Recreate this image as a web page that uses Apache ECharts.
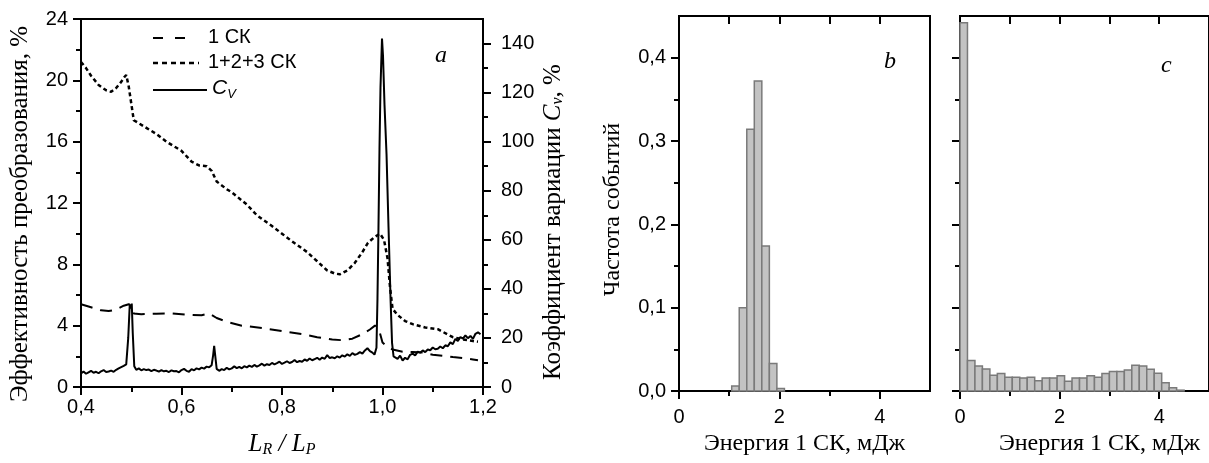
<!DOCTYPE html>
<html>
<head>
<meta charset="utf-8">
<script src="https://cdn.jsdelivr.net/npm/echarts@6/dist/echarts.min.js"></script>
<style>html,body{margin:0;padding:0;background:#fff}#c{width:1209px;height:463px}</style>
</head>
<body>
<div id="c"></div>
<script>
// ---- Panel a: conversion efficiency (left axis) and variation coefficient (right axis)
const ratio1 = [0.40,0.42,0.44,0.455,0.47,0.485,0.495,0.50,0.505,0.52,0.55,0.58,0.61,0.64,0.655,0.67,0.69,0.72,0.76,0.80,0.84,0.87,0.90,0.92,0.94,0.96,0.975,0.985,0.99,0.995,1.0,1.01,1.02,1.04,1.06,1.08,1.10,1.12,1.14,1.16,1.18,1.19];
const eff1 = [5.4,5.2,5.0,4.95,5.05,5.3,5.4,5.3,4.8,4.75,4.78,4.8,4.72,4.68,4.8,4.5,4.25,4.0,3.85,3.65,3.45,3.25,3.1,3.05,3.15,3.45,3.75,4.0,3.95,3.5,2.9,2.6,2.45,2.3,2.28,2.25,2.1,2.03,1.95,1.88,1.8,1.75];

const ratio123 = [0.40,0.41,0.42,0.435,0.45,0.46,0.47,0.48,0.486,0.49,0.495,0.505,0.515,0.53,0.55,0.57,0.59,0.60,0.62,0.635,0.65,0.66,0.67,0.69,0.70,0.73,0.75,0.78,0.80,0.82,0.85,0.87,0.89,0.905,0.915,0.93,0.945,0.96,0.971,0.985,0.995,1.003,1.01,1.015,1.02,1.03,1.045,1.06,1.085,1.11,1.14,1.16,1.18,1.19];
const eff123 = [21.2,20.8,20.3,19.7,19.35,19.25,19.5,19.9,20.2,20.35,19.6,17.4,17.2,16.9,16.5,16.0,15.6,15.4,14.7,14.45,14.4,14.1,13.4,12.9,12.7,11.9,11.2,10.5,10.0,9.5,8.8,8.2,7.6,7.4,7.35,7.6,8.1,8.8,9.4,9.8,10.0,9.6,8.4,6.5,5.1,4.7,4.3,4.1,3.88,3.77,3.25,3.1,3.0,2.95];

const ratioCv = [0.400,0.405,0.410,0.415,0.420,0.425,0.430,0.435,0.440,0.445,0.450,0.455,0.460,0.465,0.470,0.475,0.480,0.485,0.490,0.494,0.497,0.499,0.501,0.503,0.506,0.510,0.515,0.520,0.525,0.530,0.535,0.540,0.545,0.550,0.555,0.560,0.565,0.570,0.575,0.580,0.585,0.590,0.595,0.600,0.605,0.610,0.615,0.620,0.625,0.630,0.635,0.640,0.645,0.650,0.655,0.660,0.663,0.665,0.667,0.670,0.675,0.680,0.685,0.690,0.695,0.700,0.705,0.710,0.715,0.720,0.725,0.730,0.735,0.740,0.745,0.750,0.755,0.760,0.765,0.770,0.775,0.780,0.785,0.790,0.795,0.800,0.805,0.810,0.815,0.820,0.825,0.830,0.835,0.840,0.845,0.850,0.855,0.860,0.865,0.870,0.875,0.880,0.885,0.890,0.895,0.900,0.905,0.910,0.915,0.920,0.925,0.930,0.935,0.940,0.945,0.950,0.955,0.960,0.965,0.970,0.975,0.980,0.984,0.988,0.990,0.992,0.994,0.996,0.999,1.001,1.004,1.008,1.012,1.016,1.019,1.022,1.025,1.030,1.035,1.040,1.045,1.050,1.055,1.060,1.065,1.070,1.075,1.080,1.085,1.090,1.095,1.100,1.105,1.110,1.115,1.120,1.125,1.130,1.135,1.140,1.145,1.150,1.155,1.160,1.165,1.170,1.175,1.180,1.185,1.190,1.195];
const cv = [5.5,6.3,5.4,6.0,6.6,5.8,6.2,5.6,6.4,6.9,6.1,6.3,6.7,6.2,7.0,7.6,8.1,8.6,9.2,20,33.5,32,34,22,8.5,7.0,7.6,6.8,7.3,6.9,7.1,6.5,7.0,6.7,6.3,6.9,6.4,6.6,6.1,6.8,6.4,6.5,6.0,6.9,7.4,6.6,6.2,7.3,6.8,7.6,7.2,7.9,7.5,8.3,8.0,8.9,13,16.8,13,7.4,6.6,7.3,6.9,7.8,7.2,7.6,8.4,7.7,8.2,7.6,8.5,8.0,8.7,8.2,9.0,8.3,8.8,9.5,8.7,9.3,9.0,9.8,9.2,9.7,10.3,9.4,9.9,10.5,9.8,10.2,11.0,10.1,10.6,10.3,11.2,10.7,11.6,10.9,11.4,11.9,11.1,12.0,11.5,13.0,11.8,12.1,11.7,12.5,12.0,12.9,12.4,13.3,12.7,13.8,13.1,13.5,14.2,13.6,14.9,15.8,14.6,14.0,13.2,16,36,65,97,122,142,135,115,95,65,36,18,12.5,12.2,11.5,12.8,10.8,11.9,11.3,13.1,13.6,12.9,14.4,14.0,14.9,14.2,15.3,15.0,16.1,15.4,15.6,16.5,15.8,17.0,16.6,18.2,17.5,19.6,18.8,20.4,19.7,21.0,19.9,20.8,19.6,21.7,22.3,21.5];

const effTicks = [0,4,8,12,16,20,24];
const cvTicks = [0,20,40,60,80,100,120,140];
const cvMinorTicks = [10,30,50,70,90,110,130];
const ratioTicks = [0.4,0.6,0.8,1.0,1.2];

// ---- Panels b and c: histograms of 1st Stokes energy
const binEdgesB = [1.05,1.20,1.35,1.50,1.65,1.80,1.95,2.10];
const freqB = [0.006,0.100,0.314,0.372,0.174,0.033,0.003];
const binEdgesC = [0,0.15,0.30,0.45,0.60,0.75,0.90,1.05,1.20,1.35,1.50,1.65,1.80,1.95,2.10,2.25,2.40,2.55,2.70,2.85,3.00,3.15,3.30,3.45,3.60,3.75,3.90,4.05,4.20,4.35,4.50];
const freqC = [0.442,0.0365,0.030,0.0265,0.019,0.021,0.0165,0.0165,0.0157,0.0165,0.0124,0.0157,0.0157,0.0184,0.0116,0.0157,0.0157,0.0184,0.0165,0.021,0.0233,0.0233,0.0253,0.031,0.030,0.026,0.0213,0.010,0.004,0.001];
const energyTicks = [0,2,4];
const energyMinor = [1,3];
const energyTop = [1,2,3,4];
const freqTicks = [0,0.1,0.2,0.3,0.4];
const freqMinor = [0.05,0.15,0.25,0.35];

function zip(a, b) { return a.map((v, i) => [v, b[i]]); }
function bins(edges, f) { return f.map((v, i) => [edges[i], edges[i + 1], v]); }

const SANS = '"Liberation Sans", Arial, sans-serif';
const SERIF = '"Liberation Serif", "Times New Roman", serif';
const BLACK = '#000';
const LABEL_SIZE = 20;
const NAME_SIZE = 25;
const comma = (d) => (v) => v.toFixed(d).replace('.', ',');

function renderBar(params, api) {
  const p0 = api.coord([api.value(0), api.value(2)]);
  const p1 = api.coord([api.value(1), 0]);
  return {
    type: 'rect',
    shape: { x: p0[0], y: p0[1], width: p1[0] - p0[0], height: p1[1] - p0[1] },
    style: { fill: '#c3c3c3', stroke: '#7a7a7a', lineWidth: 1.5 }
  };
}

const axisLine = { show: true, lineStyle: { color: BLACK, width: 2 } };
const tickStyle = { color: BLACK, width: 2 };

function energyAxes(grid) {
  return [
    { type: 'value', gridIndex: grid, position: 'bottom', min: 0, max: 5,
      axisLine: axisLine, splitLine: { show: false },
      axisTick: { show: true, customValues: energyTicks, length: 8, lineStyle: tickStyle },
      axisLabel: { customValues: energyTicks, margin: 16, color: BLACK, fontFamily: SANS, fontSize: LABEL_SIZE },
      name: 'Энергия 1 СК, мДж', nameLocation: 'middle', nameGap: 40,
      nameTextStyle: { fontFamily: SERIF, fontSize: NAME_SIZE - 1, color: BLACK, padding: grid === 2 ? [0, 0, 0, 30] : 0 } },
    { type: 'value', gridIndex: grid, position: 'bottom', min: 0, max: 5,
      axisLine: { show: false }, splitLine: { show: false },
      axisTick: { show: true, customValues: energyMinor, length: 5, lineStyle: tickStyle },
      axisLabel: { show: false } },
    { type: 'value', gridIndex: grid, position: 'top', min: 0, max: 5,
      axisLine: axisLine, splitLine: { show: false },
      axisTick: { show: true, inside: true, customValues: energyTop, length: 8, lineStyle: tickStyle },
      axisLabel: { show: false } }
  ];
}
function freqAxes(grid, withLabels) {
  const a = [
    { type: 'value', gridIndex: grid, position: 'left', min: 0, max: 0.45,
      axisLine: axisLine, splitLine: { show: false },
      axisTick: { show: true, customValues: freqTicks, length: 8, lineStyle: tickStyle },
      axisLabel: { show: withLabels, customValues: freqTicks, formatter: comma(1), margin: 13, color: BLACK, fontFamily: SANS, fontSize: LABEL_SIZE } },
    { type: 'value', gridIndex: grid, position: 'left', min: 0, max: 0.45,
      axisLine: { show: false }, splitLine: { show: false },
      axisTick: { show: true, customValues: freqMinor, length: 5, lineStyle: tickStyle },
      axisLabel: { show: false } }
  ];
  if (withLabels) {
    Object.assign(a[0], { name: 'Частота событий', nameLocation: 'middle', nameGap: 54,
      nameTextStyle: { fontFamily: SERIF, fontSize: NAME_SIZE - 1, color: BLACK, padding: [0, 12, 0, 0] } });
  }
  return a;
}

const xAxes = [
  { type: 'value', gridIndex: 0, position: 'bottom', min: 0.4, max: 1.2, interval: 0.2,
    axisLine: axisLine, splitLine: { show: false },
    axisTick: { show: true, length: 8, lineStyle: tickStyle },
    minorTick: { show: true, splitNumber: 2, length: 5, lineStyle: tickStyle },
    axisLabel: { formatter: comma(1), margin: 10, color: BLACK, fontFamily: SANS, fontSize: LABEL_SIZE },
    name: '{i|L}{s|R}{n| / }{i|L}{s|P}', nameLocation: 'middle', nameGap: 43,
    nameTextStyle: { color: BLACK, rich: {
      i: { fontFamily: SERIF, fontStyle: 'italic', fontSize: 25, color: BLACK },
      n: { fontFamily: SERIF, fontStyle: 'italic', fontSize: 25, color: BLACK },
      s: { fontFamily: SERIF, fontStyle: 'italic', fontSize: 16, color: BLACK, padding: [12, 0, 0, 0] } } } },
  ...energyAxes(1),
  ...energyAxes(2)
];

const yAxes = [
  { type: 'value', gridIndex: 0, position: 'left', min: 0, max: 24, interval: 4,
    axisLine: axisLine, splitLine: { show: false },
    axisTick: { show: true, length: 8, lineStyle: tickStyle },
    minorTick: { show: true, splitNumber: 2, length: 5, lineStyle: tickStyle },
    axisLabel: { margin: 13, color: BLACK, fontFamily: SANS, fontSize: LABEL_SIZE },
    name: 'Эффективность преобразования, %', nameLocation: 'middle', nameGap: 48,
    nameTextStyle: { fontFamily: SERIF, fontSize: NAME_SIZE, color: BLACK, padding: [0, 22, 0, 0] } },
  { type: 'value', gridIndex: 0, position: 'right', min: 0, max: 150,
    axisLine: axisLine, splitLine: { show: false },
    axisTick: { show: true, customValues: cvTicks, length: 8, lineStyle: tickStyle },
    axisLabel: { customValues: cvTicks, margin: 18, color: BLACK, fontFamily: SANS, fontSize: LABEL_SIZE },
    name: 'Коэффициент вариации {i|C}{s|v}, %', nameLocation: 'middle', nameGap: 57,
    nameTextStyle: { fontFamily: SERIF, fontSize: NAME_SIZE, color: BLACK, padding: [0, 38, 0, 0], rich: {
      i: { fontFamily: SERIF, fontStyle: 'italic', fontSize: NAME_SIZE, color: BLACK },
      s: { fontFamily: SERIF, fontStyle: 'italic', fontSize: 16, color: BLACK, padding: [10, 0, 0, 0] } } } },
  { type: 'value', gridIndex: 0, position: 'right', min: 0, max: 150,
    axisLine: { show: false }, splitLine: { show: false },
    axisTick: { show: true, customValues: cvMinorTicks, length: 5, lineStyle: tickStyle },
    axisLabel: { show: false } },
  ...freqAxes(1, true),
  ...freqAxes(2, false)
];

const legendFont = '20px "Liberation Sans", Arial, sans-serif';
const option = {
  animation: false,
  backgroundColor: '#fff',
  grid: [
    { left: 81, right: 726, top: 19, bottom: 75, show: true, borderColor: BLACK, borderWidth: 2 },
    { left: 679, right: 279, top: 16, bottom: 72, show: true, borderColor: BLACK, borderWidth: 2 },
    { left: 960, width: 251, top: 16, bottom: 72, show: true, borderColor: BLACK, borderWidth: 2 }
  ],
  xAxis: xAxes,
  yAxis: yAxes,
  graphic: [
    // legend
    { type: 'line', shape: { x1: 153, y1: 38, x2: 186, y2: 38 }, style: { stroke: BLACK, lineWidth: 2, lineDash: [10, 12] } },
    { type: 'text', left: 208, top: 27, style: { text: '1 СК', font: legendFont, fill: BLACK } },
    { type: 'line', shape: { x1: 153, y1: 63, x2: 199, y2: 63 }, style: { stroke: BLACK, lineWidth: 2.5, lineDash: [5, 4] } },
    { type: 'text', left: 208, top: 52, style: { text: '1+2+3 СК', font: legendFont, fill: BLACK } },
    { type: 'line', shape: { x1: 153, y1: 90, x2: 207, y2: 90 }, style: { stroke: BLACK, lineWidth: 2 } },
    { type: 'text', left: 212, top: 78, style: { text: '{i|C}{s|V}', fill: BLACK, rich: {
      i: { font: 'italic 21px "Liberation Sans", Arial, sans-serif', fill: BLACK },
      s: { font: 'italic 13px "Liberation Sans", Arial, sans-serif', fill: BLACK, padding: [12, 0, 0, 0] } } } },
    // panel letters
    { type: 'text', left: 435, top: 44, style: { text: 'a', font: 'italic 24px "Liberation Serif"', fill: BLACK } },
    { type: 'text', left: 884, top: 50, style: { text: 'b', font: 'italic 24px "Liberation Serif"', fill: BLACK } },
    { type: 'text', left: 1161, top: 54, style: { text: 'c', font: 'italic 24px "Liberation Serif"', fill: BLACK } }
  ],
  series: [
    { name: '1 СК', type: 'line', xAxisIndex: 0, yAxisIndex: 0, symbol: 'none', data: zip(ratio1, eff1),
      lineStyle: { color: BLACK, width: 2, type: [12, 8] } },
    { name: '1+2+3 СК', type: 'line', xAxisIndex: 0, yAxisIndex: 0, symbol: 'none', data: zip(ratio123, eff123),
      lineStyle: { color: BLACK, width: 2.5, type: [4, 3] } },
    { name: 'C_V', type: 'line', xAxisIndex: 0, yAxisIndex: 1, symbol: 'none', data: zip(ratioCv, cv),
      lineStyle: { color: BLACK, width: 2 } },
    { type: 'custom', xAxisIndex: 1, yAxisIndex: 3, renderItem: renderBar, data: bins(binEdgesB, freqB), encode: { x: [0, 1], y: 2 } },
    { type: 'custom', xAxisIndex: 4, yAxisIndex: 5, renderItem: renderBar, data: bins(binEdgesC, freqC), encode: { x: [0, 1], y: 2 } }
  ]
};

echarts.init(document.getElementById('c')).setOption(option);
</script>
</body>
</html>
